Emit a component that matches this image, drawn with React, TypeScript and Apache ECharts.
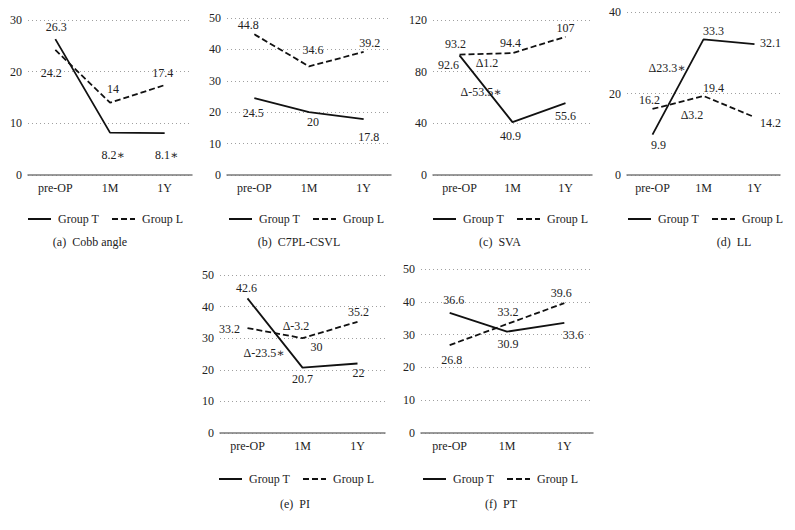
import React, { useEffect, useRef } from 'react';
import * as echarts from 'echarts';

// ---------- data ----------
const CATEGORIES = ['pre-OP', '1M', '1Y'];
const SERIES_NAMES = ['Group T', 'Group L'];

const COBB_T = [26.3, 8.2, 8.1];
const COBB_L = [24.2, 14, 17.4];
const C7_T = [24.5, 20, 17.8];
const C7_L = [44.8, 34.6, 39.2];
const SVA_T = [92.6, 40.9, 55.6];
const SVA_L = [93.2, 94.4, 107];
const LL_T = [9.9, 33.3, 32.1];
const LL_L = [16.2, 19.4, 14.2];
const PI_T = [42.6, 20.7, 22];
const PI_L = [33.2, 30, 35.2];
const PT_T = [36.6, 30.9, 33.6];
const PT_L = [26.8, 33.2, 39.6];

// significance marks per point (Group T, Cobb angle)
const COBB_T_SIG = [false, true, true];

const CAPTIONS = ['(a)  Cobb angle', '(b)  C7PL-CSVL', '(c)  SVA', '(d)  LL', '(e)  PI', '(f)  PT'];
const Y_MAX = [30, 50, 120, 40, 50, 50];
const Y_INTERVAL = [10, 10, 40, 20, 10, 10];

const DELTA_TEXTS = [
  { panel: 2, text: 'Δ1.2' },
  { panel: 2, text: 'Δ-53.5∗' },
  { panel: 3, text: 'Δ23.3∗' },
  { panel: 3, text: 'Δ3.2' },
  { panel: 4, text: 'Δ-3.2' },
  { panel: 4, text: 'Δ-23.5∗' },
];

// ---------- layout (positions only) ----------
const GRIDS = [
  { left: 28, top: 20, right: 192, bottom: 175 },
  { left: 227, top: 18, right: 391, bottom: 175 },
  { left: 433, top: 20, right: 592, bottom: 175 },
  { left: 627, top: 12, right: 780, bottom: 175 },
  { left: 220, top: 275, right: 385, bottom: 433 },
  { left: 421, top: 269, right: 593, bottom: 433 },
];
const LEGEND_POS = [
  { left: 27, top: 213 },
  { left: 228, top: 213 },
  { left: 432, top: 213 },
  { left: 627, top: 213 },
  { left: 218, top: 473 },
  { left: 422, top: 473 },
];
const CAPTION_POS = [
  { x: 90, y: 236 },
  { x: 299, y: 236 },
  { x: 500, y: 236 },
  { x: 734, y: 236 },
  { x: 295, y: 498 },
  { x: 501, y: 498 },
];
const DELTA_POS = [
  [487, 63],
  [481, 92],
  [667, 68],
  [692, 115],
  [296, 326],
  [264, 353],
];
// label offsets [dx, dy] from each point: [panel][series][point]
const LABEL_OFFSETS = [
  [[[1, -12], [3, 22], [2, 22]], [[-4, 23], [3, -14], [-2, -12]]],
  [[[-1, 15], [4, 10], [5, 18]], [[-6, -9], [4, -16], [6, -9]]],
  [[[-11, 10], [-2, 14], [0, 13]], [[-4, -11], [-2, -10], [0, -9]]],
  [[[6, 10], [10, -8], [16, -1]], [[-3, -9], [10, -8], [16, 6]]],
  [[[-1, -10], [0, 11], [1, 10]], [[-18, 1], [14, 9], [1, -10]]],
  [[[4, -13], [1, 12], [9, 12]], [[2, 15], [1, -12], [-3, -10]]],
];

const FONT = 'Liberation Serif, DejaVu Serif, serif';
const TEXT_COLOR = '#222222';

const PANELS = [
  [COBB_T, COBB_L],
  [C7_T, C7_L],
  [SVA_T, SVA_L],
  [LL_T, LL_L],
  [PI_T, PI_L],
  [PT_T, PT_L],
];

function buildOption() {
  const grid: any[] = [];
  const xAxis: any[] = [];
  const yAxis: any[] = [];
  const series: any[] = [];
  const legend: any[] = [];
  const title: any[] = [];
  const graphic: any[] = [];

  PANELS.forEach((pair, i) => {
    const g = GRIDS[i];
    grid.push({
      left: g.left,
      top: g.top,
      width: g.right - g.left,
      height: g.bottom - g.top,
      containLabel: false,
    });
    xAxis.push({
      type: 'category',
      gridIndex: i,
      data: CATEGORIES,
      boundaryGap: true,
      axisTick: { show: false },
      axisLine: { show: true, lineStyle: { color: '#7a7a7a', width: 1.5 } },
      axisLabel: { color: TEXT_COLOR, fontFamily: FONT, fontSize: 12, margin: 7 },
      splitLine: { show: false },
    });
    yAxis.push({
      type: 'value',
      gridIndex: i,
      min: 0,
      max: Y_MAX[i],
      interval: Y_INTERVAL[i],
      axisLine: { show: false },
      axisTick: { show: false },
      axisLabel: { color: TEXT_COLOR, fontFamily: FONT, fontSize: 12, margin: 6 },
      splitLine: { show: true, lineStyle: { color: '#a0a0a0', width: 1, type: [1, 3] } },
    });
    pair.forEach((vals, s) => {
      const data = vals.map((v, k) => {
        const sig = i === 0 && s === 0 && COBB_T_SIG[k];
        return {
          value: v,
          label: {
            offset: LABEL_OFFSETS[i][s][k],
            formatter: String(v) + (sig ? '∗' : ''),
          },
        };
      });
      series.push({
        type: 'line',
        name: SERIES_NAMES[s],
        xAxisIndex: i,
        yAxisIndex: i,
        data,
        symbol: 'circle',
        symbolSize: 0,
        showSymbol: true,
        itemStyle: { color: '#111' },
        lineStyle: { color: '#111', width: 1.8, type: s === 0 ? 'solid' : [6, 3] },
        label: {
          show: true,
          position: 'inside',
          align: 'center',
          verticalAlign: 'middle',
          color: TEXT_COLOR,
          fontFamily: FONT,
          fontSize: 12,
        },
        emphasis: { disabled: true },
        silent: true,
        z: 3,
      });
    });
    legend.push({
      left: LEGEND_POS[i].left,
      top: LEGEND_POS[i].top,
      data: SERIES_NAMES,
      itemWidth: 23,
      itemHeight: 14,
      itemGap: 12,
      padding: 0,
      selectedMode: false,
      textStyle: { color: TEXT_COLOR, fontFamily: FONT, fontSize: 12, padding: [0, 0, 0, 2] },
      itemStyle: { opacity: 0 },
    });
    title.push({
      text: CAPTIONS[i],
      left: CAPTION_POS[i].x,
      top: CAPTION_POS[i].y,
      textAlign: 'center',
      padding: 0,
      textStyle: { color: TEXT_COLOR, fontFamily: FONT, fontSize: 12, fontWeight: 'normal' },
    });
  });

  DELTA_TEXTS.forEach((d, j) => {
    graphic.push({
      type: 'text',
      x: DELTA_POS[j][0],
      y: DELTA_POS[j][1],
      silent: true,
      style: {
        text: d.text,
        fill: TEXT_COLOR,
        font: `12px ${FONT}`,
        align: 'center',
        verticalAlign: 'middle',
      },
      z: 10,
    });
  });

  return {
    animation: false,
    backgroundColor: '#ffffff',
    grid,
    xAxis,
    yAxis,
    series,
    legend,
    title,
    graphic,
  };
}

export default function App() {
  const ref = useRef<HTMLDivElement>(null);
  useEffect(() => {
    document.body.style.margin = '0';
    if (!ref.current) return;
    const chart = echarts.init(ref.current, undefined, { renderer: 'svg' });
    chart.setOption(buildOption() as any);
    return () => {
      chart.dispose();
    };
  }, []);
  return <div ref={ref} style={{ width: 795, height: 530 }} />;
}
